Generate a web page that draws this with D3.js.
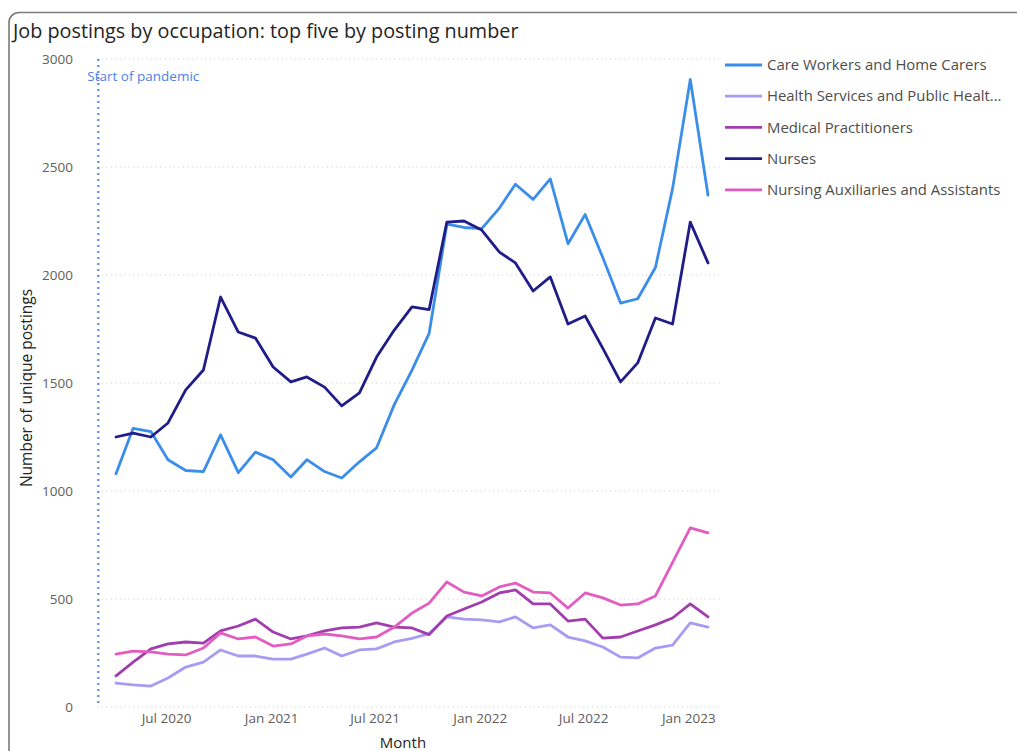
<!DOCTYPE html>
<html>
<head>
<meta charset="utf-8">
<script src="https://cdn.jsdelivr.net/npm/d3@7/dist/d3.min.js"></script>
<style>
  html, body { margin: 0; padding: 0; background: #fff; }
  svg { display: block; }
  text { font-family: "Open Sans", "Noto Sans", sans-serif; }
</style>
</head>
<body>
<svg id="chart" width="1017" height="751"></svg>
<script>
// ---- Data (Apr 2020 .. Feb 2023, monthly) ----
const months = [
  "2020-04","2020-05","2020-06","2020-07","2020-08","2020-09","2020-10","2020-11","2020-12",
  "2021-01","2021-02","2021-03","2021-04","2021-05","2021-06","2021-07","2021-08","2021-09","2021-10","2021-11","2021-12",
  "2022-01","2022-02","2022-03","2022-04","2022-05","2022-06","2022-07","2022-08","2022-09","2022-10","2022-11","2022-12",
  "2023-01","2023-02"
];
const seriesNames = [
  "Care Workers and Home Carers",
  "Health Services and Public Health Managers and Directors",
  "Medical Practitioners",
  "Nurses",
  "Nursing Auxiliaries and Assistants"
];
const legendLabels = [
  "Care Workers and Home Carers",
  "Health Services and Public Healt...",
  "Medical Practitioners",
  "Nurses",
  "Nursing Auxiliaries and Assistants"
];
const careWorkers = [1080,1290,1275,1145,1095,1090,1260,1085,1180,
  1145,1065,1145,1090,1060,1135,1200,1400,1560,1730,2235,2220,
  2215,2310,2420,2350,2445,2145,2280,2080,1870,1890,2035,2400,
  2905,2370];
const healthServices = [111,102,97,134,185,208,264,236,236,
  222,222,245,273,236,264,269,301,318,340,417,407,
  403,394,417,366,380,324,306,278,231,227,273,287,
  389,370];
const medicalPractitioners = [144,208,269,292,301,296,352,375,407,
  347,315,329,352,366,370,389,370,366,335,421,454,
  486,528,542,477,477,398,407,319,324,352,380,412,
  477,417];
const nurses = [1250,1268,1250,1315,1468,1560,1898,1736,1708,
  1574,1505,1528,1481,1394,1454,1620,1745,1852,1840,2245,2250,
  2208,2106,2056,1926,1991,1773,1810,1660,1505,1593,1801,1773,
  2245,2056];
const nursingAux = [245,259,255,245,241,273,343,315,324,
  282,292,329,338,329,315,324,370,435,481,579,532,
  514,556,574,532,528,458,528,505,472,477,514,670,
  829,806];
const seriesValues = [careWorkers, healthServices, medicalPractitioners, nurses, nursingAux];
const colors = ["#3A8EEA", "#A89CF2", "#A23DAE", "#201C88", "#E35DC0"];
const yTicks = [0, 500, 1000, 1500, 2000, 2500, 3000];
const xTickLabels = ["2020-07","2021-01","2021-07","2022-01","2022-07","2023-01"];
const pandemicMonth = "2020-03";
const pandemicLabel = "Start of pandemic";

// ---- Layout ----
const svg = d3.select("#chart");
const parse = d3.timeParse("%Y-%m");
const x = d3.scaleTime().domain([parse("2020-04"), parse("2023-02")]).range([116, 708]);
const y = d3.scaleLinear().domain([0, 3000]).range([707, 59]);

// frame
svg.append("rect").attr("x", 9).attr("y", 12.5).attr("width", 1100).attr("height", 800)
  .attr("rx", 10).attr("fill", "#fff").attr("stroke", "#7a7a7a").attr("stroke-width", 1.6);

// title
svg.append("text").attr("x", 13).attr("y", 38).attr("font-size", 19.8).attr("font-weight", 500)
  .attr("fill", "#252423")
  .text("Job postings by occupation: top five by posting number");

// gridlines
const gx0 = 97, gx1 = 722;
svg.append("g").selectAll("line").data(yTicks).join("line")
  .attr("x1", gx0).attr("x2", gx1)
  .attr("y1", d => y(d)).attr("y2", d => y(d))
  .attr("stroke", "#d6d6d6").attr("stroke-width", 1).attr("stroke-dasharray", "1.5,3");

// y axis
const yAxis = d3.axisLeft(y).tickValues(yTicks).tickSize(0).tickPadding(0).tickFormat(d3.format("d"));
const yg = svg.append("g").attr("transform", "translate(73,0)").call(yAxis);
yg.select(".domain").remove();
yg.selectAll("text").attr("font-size", 13.5).attr("fill", "#605E5C")
  .attr("font-family", "'Open Sans', sans-serif").attr("dy", "0.32em");

// x axis
const xAxis = d3.axisBottom(x).tickValues(xTickLabels.map(parse)).tickSize(0).tickPadding(0)
  .tickFormat(d3.timeFormat("%b %Y"));
const xg = svg.append("g").attr("transform", "translate(0,713)").call(xAxis);
xg.select(".domain").remove();
xg.selectAll("text").attr("font-size", 13.5).attr("fill", "#605E5C")
  .attr("font-family", "'Open Sans', sans-serif").attr("dy", "0.71em").attr("dx", "-2");

// axis titles
svg.append("text").attr("x", 403).attr("y", 748).attr("text-anchor", "middle")
  .attr("font-size", 15).attr("fill", "#252423").text("Month");
svg.append("text").attr("transform", "translate(32,388) rotate(-90)").attr("text-anchor", "middle")
  .attr("font-size", 15.5).attr("fill", "#252423").text("Number of unique postings");

// pandemic reference line
const px = x(parse(pandemicMonth));
svg.append("line").attr("x1", px).attr("x2", px).attr("y1", y(3000)).attr("y2", y(0))
  .attr("stroke", "#5B8EE6").attr("stroke-width", 2.2).attr("stroke-dasharray", "2,4");
svg.append("text").attr("x", px - 11).attr("y", 81).attr("font-size", 13.5).attr("fill", "#4F7FE8")
  .text(pandemicLabel);

// lines
const line = d3.line().x((d, i) => x(parse(months[i]))).y(d => y(d));
svg.append("g").selectAll("path").data(seriesValues).join("path")
  .attr("d", d => line(d))
  .attr("fill", "none")
  .attr("stroke", (d, i) => colors[i])
  .attr("stroke-width", 2.8)
  .attr("stroke-linejoin", "round")
  .attr("stroke-linecap", "round");

// legend
const lg = svg.append("g").selectAll("g").data(legendLabels).join("g")
  .attr("transform", (d, i) => `translate(725,${65 + i * 31.2})`);
lg.append("line").attr("x1", 0).attr("x2", 37).attr("y1", 0).attr("y2", 0)
  .attr("stroke", (d, i) => colors[i]).attr("stroke-width", 2.8);
lg.append("text").attr("x", 42).attr("y", 0).attr("dy", "0.35em")
  .attr("font-size", 14.9).attr("fill", "#4f4d4b").text(d => d);
</script>
</body>
</html>
